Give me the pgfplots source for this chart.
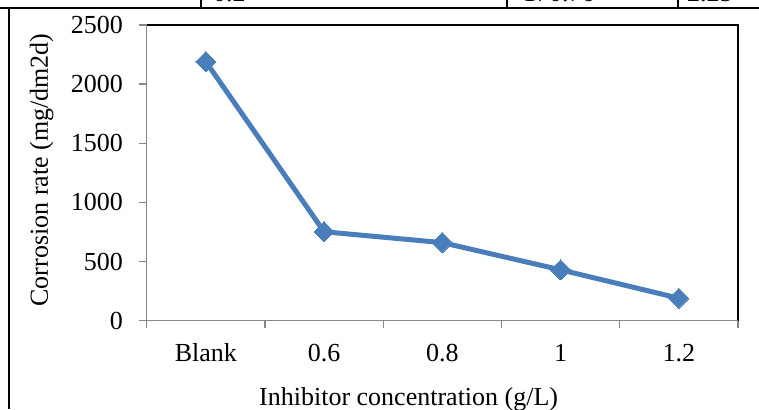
\documentclass[border=0pt]{standalone}
\usepackage{fontspec}
\setmainfont{Liberation Serif}
\usepackage{pgfplots}
\pgfplotsset{compat=1.18}
\definecolor{excelblue}{HTML}{4A7EBB}
\definecolor{axgray}{HTML}{868686}
\begin{document}
\fontsize{26bp}{31bp}\selectfont
\begin{tikzpicture}[x=1bp,y=1bp]
\useasboundingbox (0,0) rectangle (759,409);
\clip (0,0) rectangle (759,409);
% surrounding table borders
\draw[line width=2bp] (0,400.5) -- (759,400.5);
\draw[line width=2bp] (9,400.5) -- (9,0);
\foreach \xx in {200.7,506.7,678.3} \draw[line width=2bp] (\xx,400.5) -- (\xx,409);
\node[anchor=base west,inner sep=0pt] at (213,407.6) {0.2};
\node[anchor=base west,inner sep=0pt] at (523,407.6) {170.76};
\node[anchor=base west,inner sep=0pt] at (687,407.6) {2.25};
% plot area top/right border
\draw[black, line width=1.6bp] (146.7,384) -- (738,384) -- (738,88.3);
\begin{axis}[
  at={(146.7bp,88.3bp)}, anchor=south west,
  scale only axis, width=591.3bp, height=295.7bp,
  xmin=-0.5, xmax=4.5, ymin=0, ymax=2500,
  axis lines*=left,
  axis line style={axgray, line width=1.5bp, -},
  tick align=outside,
  major tick length=7.5bp,
  tick style={axgray, line width=1.3bp},
  xtick={-0.5,0.5,1.5,2.5,3.5,4.5},
  xticklabels={Blank,0.6,0.8,1,1.2},
  x tick label as interval,
  ytick={0,500,1000,1500,2000,2500},
  /pgf/number format/assume math mode=true,
  scaled y ticks=false,
  yticklabel={\pgfmathprintnumber[fixed,1000 sep={}]{\tick}},
  yticklabel style={inner sep=0pt, anchor=east, xshift=-16.2bp},
  xticklabel style={inner sep=0pt, anchor=base, yshift=-33.5bp},
  xlabel={Inhibitor concentration (g/L)},
  ylabel={Corrosion rate (mg/dm2d)},
  xlabel style={at={([yshift=-85.2bp]axis description cs:0.443,0)}, anchor=base, inner sep=0pt},
  ylabel style={at={([xshift=-98.7bp]axis description cs:0,0.51)}, anchor=base, inner sep=0pt},
  clip=false,
]
\addplot[excelblue, line width=5bp, line join=round, mark=square*, mark size=7.1bp,
  mark options={rotate=45, solid, fill=excelblue, draw=excelblue, line width=0pt}]
  coordinates {(0,2190) (1,752) (2,660) (3,430) (4,190)};
\end{axis}
\end{tikzpicture}
\end{document}
